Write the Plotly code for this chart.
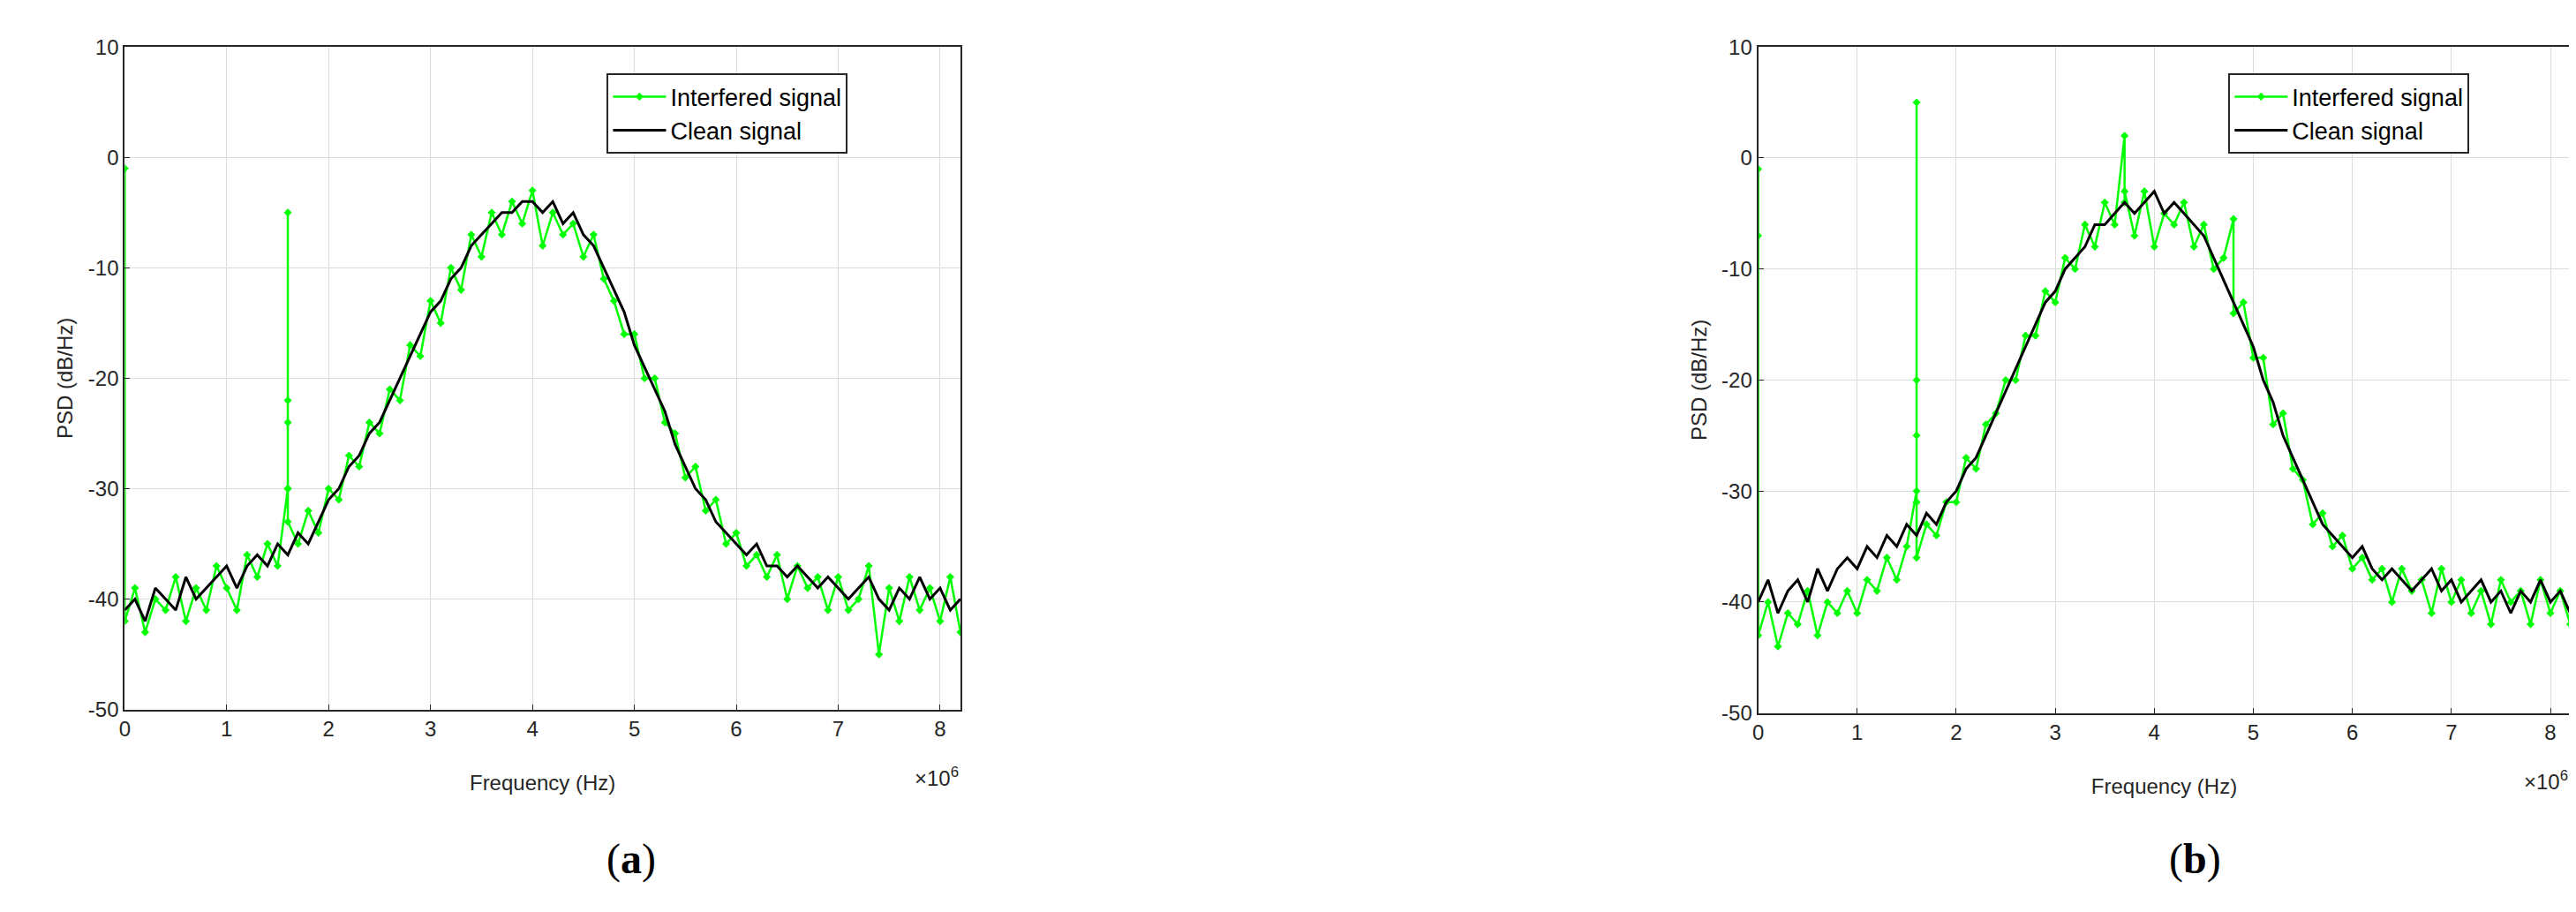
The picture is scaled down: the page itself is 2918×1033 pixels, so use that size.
import plotly.graph_objects as go

freq = [round(i * 0.1, 1) for i in range(83)]  # x 10^6 Hz
y_ticks = [-50, -40, -30, -20, -10, 0, 10]
y_labels = ["-50", "-40", "-30", "-20", "-10", "0", "10"]

clean_a = [-41,-40,-42,-39,-40,-41,-38,-40,-39,-38,
           -37,-39,-37,-36,-37,-35,-36,-34,-35,-33,
           -31,-30,-28,-27,-25,-24,-22,-20,-18,-16,
           -14,-13,-11,-10,-8,-7,-6,-5,-5,-4,
           -4,-5,-4,-6,-5,-7,-8,-10,-12,-14,
           -17,-19,-21,-23,-26,-28,-30,-31,-33,-34,
           -35,-36,-35,-37,-37,-38,-37,-38,-39,-38,
           -39,-40,-39,-38,-40,-41,-39,-40,-38,-40,
           -39,-41,-40]
interf_a = [-42,-39,-43,-40,-41,-38,-42,-39,-41,-37,
            -39,-41,-36,-38,-35,-37,-33,-35,-32,-34,
            -30,-31,-27,-28,-24,-25,-21,-22,-17,-18,
            -13,-15,-10,-12,-7,-9,-5,-7,-4,-6,
            -3,-8,-5,-7,-6,-9,-7,-11,-13,-16,
            -16,-20,-20,-24,-25,-29,-28,-32,-31,-35,
            -34,-37,-36,-38,-36,-40,-37,-39,-38,-41,
            -38,-41,-40,-37,-45,-39,-42,-38,-41,-39,
            -42,-38,-43]
clean_b = [-40,-38,-41,-39,-38,-40,-37,-39,-37,-36,
           -37,-35,-36,-34,-35,-33,-34,-32,-33,-31,
           -30,-28,-27,-25,-23,-21,-19,-17,-15,-13,
           -12,-10,-9,-8,-6,-6,-5,-4,-5,-4,
           -3,-5,-4,-5,-6,-7,-9,-11,-13,-15,
           -17,-20,-22,-25,-27,-29,-31,-33,-34,-35,
           -36,-35,-37,-38,-37,-38,-39,-38,-37,-39,
           -38,-40,-39,-38,-40,-39,-41,-39,-40,-38,
           -40,-39,-41]
interf_b = [-43,-40,-44,-41,-42,-39,-43,-40,-41,-39,
            -41,-38,-39,-36,-38,-35,-36,-33,-34,-31,
            -31,-27,-28,-24,-23,-20,-20,-16,-16,-12,
            -13,-9,-10,-6,-8,-4,-6,-3,-7,-3,
            -8,-5,-6,-4,-8,-6,-10,-9,-14,-13,
            -18,-18,-24,-23,-28,-29,-33,-32,-35,-34,
            -37,-36,-38,-37,-40,-37,-39,-38,-41,-37,
            -40,-38,-41,-39,-42,-38,-40,-39,-42,-38,
            -41,-39,-42]
spikes_a = {0.0: [-1], 1.6: [-30, -5, -22, -24, -30]}
spikes_b = {0.0: [-1, -7], 1.6: [-30, 5, -20, -25, -31], 3.7: [2, -4], 4.8: [-5.5]}

def with_spikes(vals, spikes):
    xs, ys = [], []
    for x, v in zip(freq, vals):
        for s in spikes.get(x, []):
            xs.append(x); ys.append(s)
        xs.append(x); ys.append(v)
    return xs, ys

fig = go.Figure()
panels = [("x", "y", "legend", interf_a, clean_a, spikes_a),
          ("x2", "y2", "legend2", interf_b, clean_b, spikes_b)]
for xa, ya, lg, itf, cln, sp in panels:
    xs, ys = with_spikes(itf, sp)
    fig.add_trace(go.Scatter(x=xs, y=ys, xaxis=xa, yaxis=ya, legend=lg, name="Interfered signal",
                             mode="lines+markers", line=dict(color="#00ff00", width=2.5),
                             marker=dict(symbol="diamond", size=7, color="#00ff00")))
    fig.add_trace(go.Scatter(x=freq, y=cln, xaxis=xa, yaxis=ya, legend=lg, name="Clean signal",
                             mode="lines", line=dict(color="black", width=3)))

font = dict(family="Arial", size=24, color="#262626")
ax = dict(range=[0, 8.2], tickvals=list(range(9)), showgrid=True, gridcolor="#dcdcdc",
          showline=True, linecolor="#262626", linewidth=2, mirror=True, ticks="inside",
          ticklen=6, tickcolor="#262626", zeroline=False, tickfont=font,
          title=dict(text="Frequency (Hz)", font=font, standoff=40))
ay = dict(range=[-50, 10], tickvals=y_ticks, ticktext=y_labels, showgrid=True, gridcolor="#dcdcdc",
          showline=True, linecolor="#262626", linewidth=2, mirror=True, ticks="inside",
          ticklen=6, tickcolor="#262626", zeroline=False, tickfont=font,
          title=dict(text="PSD (dB/Hz)", font=font, standoff=10))
leg = dict(bgcolor="white", bordercolor="#262626", borderwidth=2, font=dict(family="Arial", size=27, color="black"),
           xanchor="left", yanchor="top", itemwidth=60)
fig.update_layout(
    width=2918, height=1033, margin=dict(l=0, r=0, t=0, b=0),
    paper_bgcolor="white", plot_bgcolor="white", showlegend=True,
    xaxis=dict(domain=[0.0434, 0.3686], anchor="y", **ax),
    yaxis=dict(domain=[0.223, 0.969], anchor="x", **ay),
    xaxis2=dict(domain=[0.679, 0.995], anchor="y2", **ax),
    yaxis2=dict(domain=[0.219, 0.969], anchor="x2", **ay),
    legend=dict(x=0.231, y=0.939, **leg),
    legend2=dict(x=0.862, y=0.939, **leg),
    annotations=[
        dict(text="×10<sup>6</sup>", x=0.3686, y=0.13, xref="paper", yref="paper", xanchor="right",
             showarrow=False, font=font),
        dict(text="×10<sup>6</sup>", x=0.995, y=0.126, xref="paper", yref="paper", xanchor="right",
             showarrow=False, font=font),
        dict(text="(<b>a</b>)", x=0.23, y=0.026, xref="paper", yref="paper",
             showarrow=False, font=dict(family="Liberation Serif", size=48, color="black")),
        dict(text="(<b>b</b>)", x=0.86, y=0.026, xref="paper", yref="paper",
             showarrow=False, font=dict(family="Liberation Serif", size=48, color="black")),
    ])
fig.write_html("out.html")
